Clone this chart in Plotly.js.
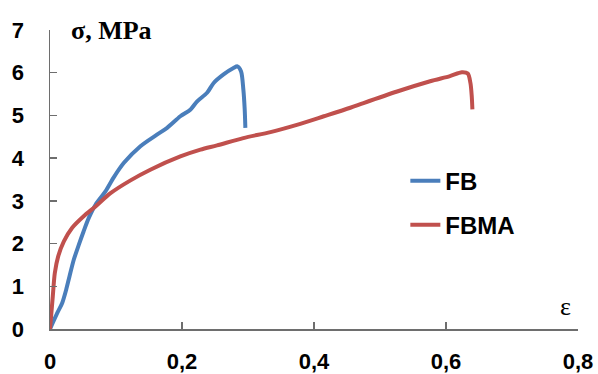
<!DOCTYPE html>
<html>
<head>
<meta charset="utf-8">
<script src="https://cdn.plot.ly/plotly-3.0.1.min.js"></script>
<style>html,body{margin:0;padding:0;background:#fff;}#chart{width:598px;height:374px;}</style>
</head>
<body>
<div id="chart"></div>
<script>
// FB series (strain, stress MPa)
const fbStrain = [0, 0.0109, 0.0185, 0.0245, 0.0295, 0.036, 0.0436, 0.051, 0.0588, 0.069, 0.084, 0.0966, 0.112, 0.137, 0.162, 0.1775, 0.1975, 0.213, 0.223, 0.238, 0.248, 0.263, 0.278, 0.284, 0.2895, 0.293, 0.295, 0.296];
const fbStress = [0, 0.37, 0.61, 0.92, 1.23, 1.62, 1.97, 2.29, 2.60, 2.91, 3.22, 3.55, 3.89, 4.28, 4.55, 4.71, 4.98, 5.14, 5.33, 5.53, 5.76, 5.96, 6.11, 6.15, 6.03, 5.60, 5.14, 4.71];
// FBMA series
const fbmaStrain = [0, 0.0042, 0.0073, 0.0124, 0.021, 0.0336, 0.051, 0.069, 0.0917, 0.122, 0.152, 0.1975, 0.228, 0.253, 0.293, 0.334, 0.374, 0.415, 0.455, 0.475, 0.526, 0.576, 0.606, 0.624, 0.633, 0.637, 0.639, 0.640];
const fbmaStress = [0, 0.76, 1.31, 1.70, 2.05, 2.37, 2.64, 2.87, 3.18, 3.48, 3.73, 4.04, 4.20, 4.30, 4.47, 4.61, 4.78, 4.98, 5.18, 5.29, 5.56, 5.80, 5.92, 6.01, 5.98, 5.76, 5.45, 5.14];
const xTickVals = [0, 0.2, 0.4, 0.6, 0.8];
const xTickText = ['0', '0,2', '0,4', '0,6', '0,8'];
const yTickVals = [0, 1, 2, 3, 4, 5, 6, 7];

const axisColor = '#6e6e6e';
const traces = [
  {x: fbStrain, y: fbStress, name: 'FB', mode: 'lines', legendgroup: 'a',
   line: {color: '#4a7ebb', width: 4, shape: 'spline', smoothing: 0.8}},
  {x: fbmaStrain, y: fbmaStress, name: 'FBMA', mode: 'lines', legendgroup: 'b',
   line: {color: '#c0504d', width: 4, shape: 'spline', smoothing: 0.8}}
];
const layout = {
  width: 598, height: 374,
  margin: {l: 50, r: 20, t: 30, b: 45},
  separators: ',.',
  paper_bgcolor: '#fff', plot_bgcolor: '#fff',
  showlegend: true,
  legend: {x: 0.673, y: 0.57, xanchor: 'left', yanchor: 'top', traceorder: 'grouped', tracegroupgap: 10,
    font: {family: 'Liberation Sans, Arial, sans-serif', size: 24, color: '#000', weight: 'bold'},
    bgcolor: 'rgba(0,0,0,0)'},
  xaxis: {range: [0, 0.8], tickmode: 'array', tickvals: xTickVals, ticktext: xTickText, showgrid: false, zeroline: false,
    showline: true, linecolor: axisColor, linewidth: 1.5, ticks: 'inside', ticklen: 7, tickcolor: axisColor, tickwidth: 1.3,
    ticklabelstandoff: 12,
    tickfont: {family: 'Liberation Sans, Arial, sans-serif', size: 22, color: '#000', weight: 'bold'}},
  yaxis: {range: [0, 7], tickmode: 'array', tickvals: yTickVals, showgrid: false, zeroline: false,
    showline: true, linecolor: axisColor, linewidth: 1.5, ticks: 'inside', ticklen: 7, tickcolor: axisColor, tickwidth: 1.3,
    ticklabelstandoff: 20,
    tickfont: {family: 'Liberation Sans, Arial, sans-serif', size: 22, color: '#000', weight: 'bold'}},
  annotations: [
    {text: '<b>σ, MPa</b>', xref: 'paper', yref: 'paper', x: 0.036, y: 1.0, xanchor: 'left', yanchor: 'middle', showarrow: false,
     font: {family: 'Liberation Serif, Times New Roman, serif', size: 26, color: '#000'}},
    {text: 'ε', xref: 'paper', yref: 'paper', x: 0.99, y: 0.075, xanchor: 'right', yanchor: 'middle', showarrow: false,
     font: {family: 'Liberation Serif, Times New Roman, serif', size: 26, color: '#000'}}
  ]
};
Plotly.newPlot('chart', traces, layout, {staticPlot: true, displayModeBar: false});
</script>
</body>
</html>
